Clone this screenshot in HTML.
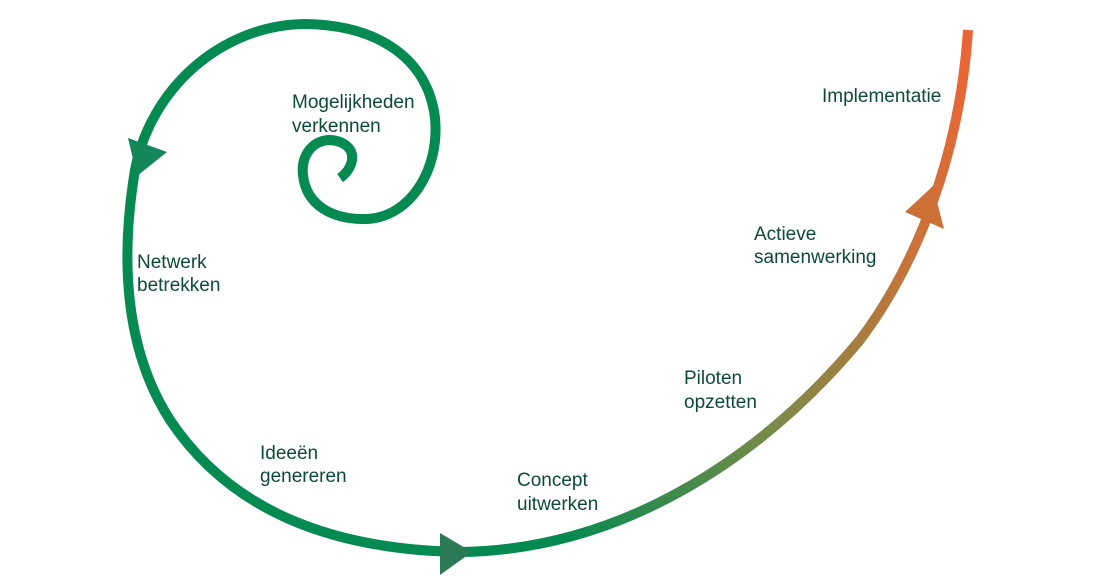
<!DOCTYPE html>
<html><head><meta charset="utf-8"><style>
html,body{margin:0;padding:0;background:#fff;width:1096px;height:587px;overflow:hidden}
text{font-family:"Liberation Sans",sans-serif;font-size:19px;fill:#0d4a37}
</style></head><body>
<svg width="1096" height="587" viewBox="0 0 1096 587" xmlns="http://www.w3.org/2000/svg">
<defs>
<linearGradient id="g" gradientUnits="userSpaceOnUse" x1="560" y1="540" x2="965" y2="60">
<stop offset="0" stop-color="#048a50"/>
<stop offset="0.35" stop-color="#7a8a48"/>
<stop offset="0.7" stop-color="#c9733a"/>
<stop offset="1" stop-color="#ea6535"/>
</linearGradient>
</defs>
<path d="M 340 178 C 352 170, 360 150, 340 142 C 318 134, 300 152, 303 175 C 306 205, 332 220, 367 219 C 410 217, 440 170, 435 118 C 428 60, 380 25, 305 24 C 220 25, 150 90, 135 170 C 120 260, 125 350, 170 420 C 230 510, 330 550, 462 552" fill="none" stroke="#058a52" stroke-width="10"/>
<path d="M 460 552 C 620 550, 760 460, 860 340 C 920 260, 960 150, 968 30" fill="none" stroke="url(#g)" stroke-width="10"/>
<polygon points="128,138 167,152 137,176" fill="#14875a"/>
<polygon points="440,533 440,575 472,552" fill="#2a7a55"/>
<polygon points="905,212 933,186 944,229" fill="#cc7038"/>
<text x="292" y="108">Mogelijkheden</text><text x="292" y="132">verkennen</text>
<text x="137" y="268">Netwerk</text><text x="137" y="291">betrekken</text>
<text x="260" y="459">Ideeën</text><text x="260" y="482">genereren</text>
<text x="517" y="486">Concept</text><text x="517" y="510">uitwerken</text>
<text x="684" y="384">Piloten</text><text x="684" y="408">opzetten</text>
<text x="754" y="240">Actieve</text><text x="754" y="263">samenwerking</text>
<text x="822" y="102">Implementatie</text>
</svg>
</body></html>
